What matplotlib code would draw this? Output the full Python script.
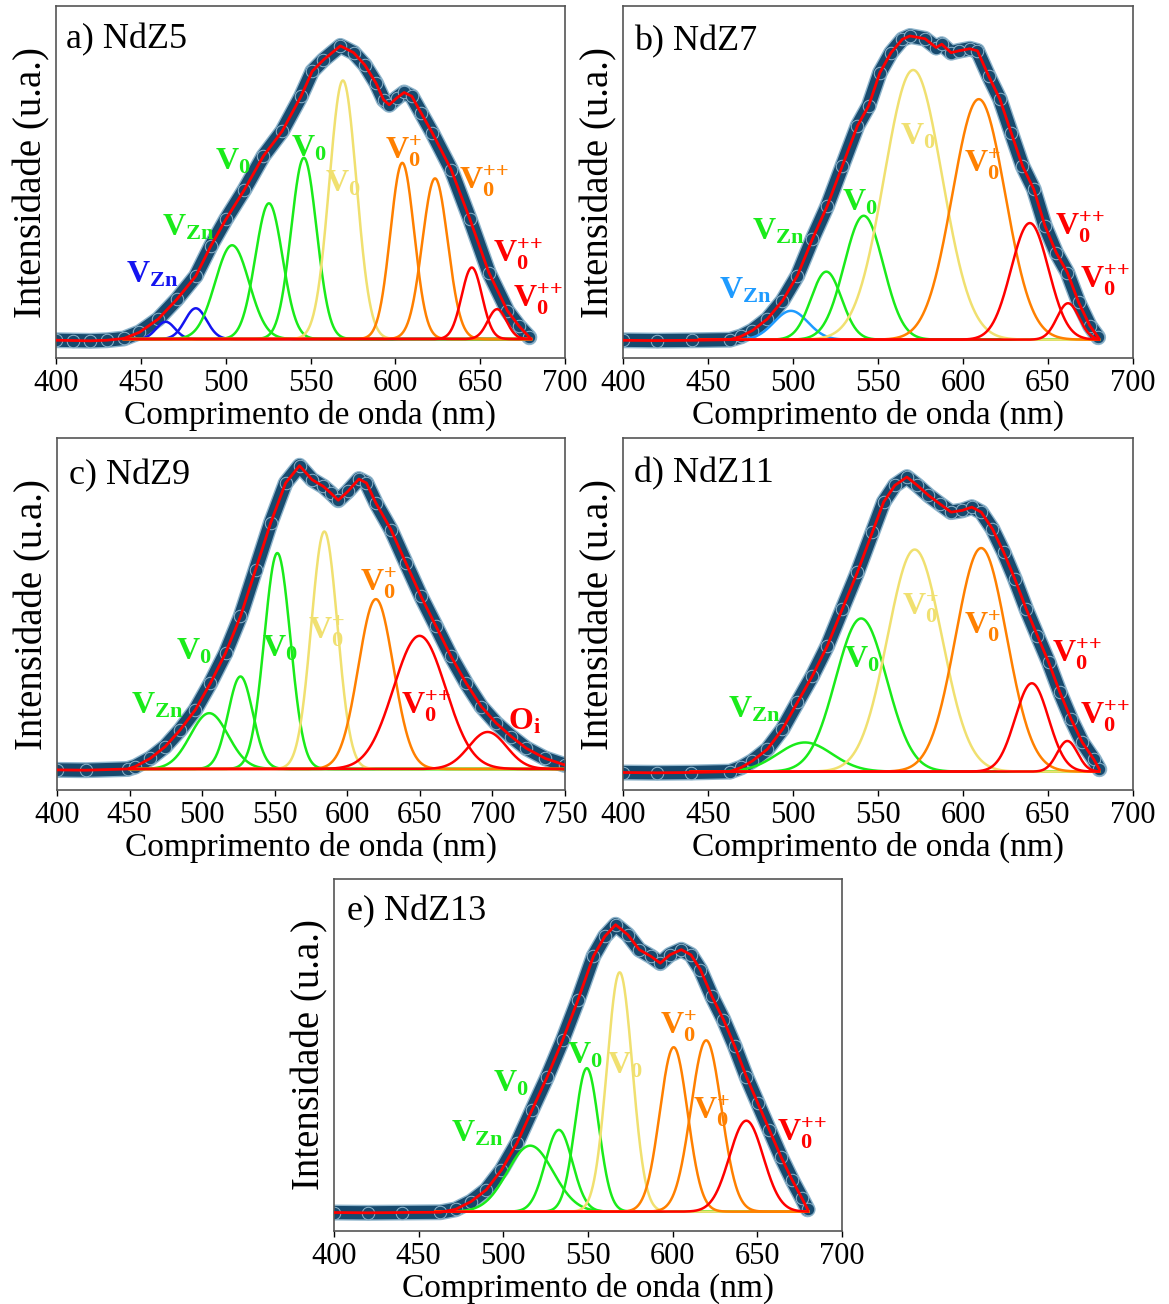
import numpy as np
import matplotlib
matplotlib.use('Agg')
import matplotlib.pyplot as plt

plt.rcParams['font.family'] = ['Liberation Serif', 'DejaVu Serif']
plt.rcParams['mathtext.fontset'] = 'custom'
plt.rcParams['mathtext.rm'] = 'Liberation Serif'
plt.rcParams['mathtext.bf'] = 'Liberation Serif:bold'
plt.rcParams['mathtext.it'] = 'Liberation Serif:italic'

# ---------------- data (normalised intensity, peak = 1) ----------------
# a) NdZ5
a_wl = [400, 410, 420, 430, 440, 449.2, 460.2, 471.3, 482.4, 491.2, 500.1, 511.1, 522.2, 533.3,
        544.4, 551.0, 557.6, 567.6, 575.4, 582.0, 588.6, 593.1, 596.4, 600.8, 605.2, 609.7,
        615.2, 621.8, 632.9, 644.0, 655.1, 666.1, 672.8, 679.0]
a_int = [-0.004, -0.005, -0.006, -0.004, 0.002, 0.023, 0.068, 0.136, 0.215, 0.317, 0.408, 0.510,
         0.624, 0.709, 0.828, 0.913, 0.952, 1.0, 0.977, 0.935, 0.873, 0.816, 0.799, 0.822, 0.841,
         0.828, 0.771, 0.703, 0.578, 0.408, 0.227, 0.096, 0.045, 0.006]
a_centers = [464.6, 482.4, 503.8, 525.5, 546.1, 569.1, 604.1, 623.4, 645.1, 660.0]
a_heights = [0.059, 0.105, 0.32, 0.463, 0.618, 0.882, 0.601, 0.548, 0.244, 0.102]
a_sigmas = [5.5, 6.4, 10.0, 8.0, 7.5, 8.0, 7.0, 7.5, 6.0, 5.5]

# b) NdZ7
b_wl = [400, 420, 440.8, 462.9, 469.5, 476.1, 484.9, 493.8, 502.6, 511.4, 520.2, 529.0, 537.9,
        544.5, 551.1, 557.7, 564.3, 568.8, 577.6, 584.2, 587.5, 593.0, 597.4, 604.0, 608.5,
        615.1, 621.7, 628.3, 635.0, 641.6, 648.2, 654.8, 661.4, 668.0, 674.6, 679.5]
b_int = [-0.002, -0.003, -0.002, 0.0, 0.011, 0.030, 0.068, 0.128, 0.211, 0.331, 0.441, 0.572,
         0.704, 0.770, 0.879, 0.945, 0.989, 1.0, 0.991, 0.962, 0.973, 0.945, 0.951, 0.958, 0.951,
         0.868, 0.792, 0.682, 0.572, 0.496, 0.375, 0.287, 0.221, 0.123, 0.046, 0.008]
b_centers = [498.8, 519.6, 541.6, 570.7, 609.3, 639.3, 661.8]
b_heights = [0.095, 0.224, 0.408, 0.888, 0.792, 0.384, 0.12]
b_sigmas = [10.0, 9.0, 11.5, 17.0, 15.5, 11.0, 6.5]

# c) NdZ9
c_wl = [400, 420, 448.7, 453.9, 464.3, 474.6, 484.9, 495.3, 505.7, 516.1, 526.4, 536.8, 547.2,
        557.5, 567.1, 575.7, 583.4, 588.6, 593.8, 600.3, 608.0, 613.2, 619.7, 630.1, 640.4,
        650.8, 661.2, 671.5, 681.9, 692.3, 702.6, 713.0, 723.4, 736.3, 750.0]
c_int = [-0.003, -0.004, 0.0, 0.008, 0.035, 0.074, 0.129, 0.195, 0.283, 0.382, 0.503, 0.657,
         0.811, 0.943, 1.0, 0.954, 0.932, 0.910, 0.886, 0.915, 0.956, 0.943, 0.877, 0.789, 0.679,
         0.569, 0.470, 0.371, 0.283, 0.206, 0.151, 0.107, 0.068, 0.035, 0.013]
c_centers = [504.9, 526.4, 551.8, 584.2, 619.7, 649.8, 696.7]
c_heights = [0.184, 0.305, 0.712, 0.783, 0.56, 0.439, 0.122]
c_sigmas = [13.0, 8.5, 9.0, 9.0, 12.0, 18.0, 13.0]

# d) NdZ11
d_wl = [400, 420, 440, 462.9, 469.5, 476.1, 484.9, 493.8, 502.6, 511.4, 520.2, 529.0, 537.9,
        546.7, 553.3, 559.9, 567.0, 573.1, 579.7, 586.4, 593.0, 599.6, 605.2, 610.7, 617.3,
        623.9, 630.5, 637.2, 643.8, 650.4, 657.0, 663.6, 670.2, 676.9, 680.2]
d_int = [-0.003, -0.004, -0.003, 0.0, 0.014, 0.036, 0.076, 0.144, 0.235, 0.325, 0.427, 0.552,
         0.677, 0.813, 0.915, 0.972, 1.0, 0.972, 0.938, 0.909, 0.881, 0.887, 0.898, 0.881, 0.824,
         0.745, 0.654, 0.552, 0.461, 0.371, 0.269, 0.178, 0.099, 0.042, 0.008]
d_centers = [507.0, 540.1, 571.6, 610.7, 640.5, 661.4]
d_heights = [0.099, 0.52, 0.754, 0.759, 0.30, 0.104]
d_sigmas = [16.0, 15.0, 16.0, 15.0, 9.8, 6.0]

# e) NdZ13
e_wl = [400, 420, 440, 462.8, 471.8, 480.9, 489.9, 498.9, 508.0, 517.0, 526.0, 535.1, 544.1,
        553.2, 559.9, 566.3, 573.5, 580.3, 587.1, 592.7, 598.3, 605.1, 610.8, 616.4, 623.2,
        630.0, 636.7, 643.5, 650.3, 657.1, 663.9, 670.6, 676.3, 679.7]
e_int = [-0.003, -0.004, -0.003, -0.002, 0.008, 0.035, 0.076, 0.145, 0.238, 0.355, 0.471, 0.599,
         0.738, 0.890, 0.959, 1.0, 0.965, 0.913, 0.890, 0.866, 0.895, 0.913, 0.895, 0.843, 0.750,
         0.669, 0.576, 0.471, 0.378, 0.285, 0.192, 0.110, 0.047, 0.008]
e_centers = [515.9, 532.8, 549.3, 568.7, 600.6, 619.8, 643.5]
e_heights = [0.23, 0.285, 0.5, 0.834, 0.573, 0.597, 0.317]
e_sigmas = [13.5, 8.0, 7.0, 7.5, 8.2, 9.0, 10.0]

VZN = r'$\mathbf{V_{Zn}}$'
V0 = r'$\mathbf{V_0}$'
V0P = r'$\mathbf{V_0^{+}}$'
V0PP = r'$\mathbf{V_0^{+\!+}}$'
OI = r'$\mathbf{O_i}$'

a_labels = [VZN, VZN, V0, V0, V0, V0P, V0PP, V0PP, V0PP]
b_labels = [VZN, VZN, V0, V0, V0P, V0PP, V0PP]
c_labels = [VZN, V0, V0, V0P, V0P, V0PP, OI]
d_labels = [VZN, V0, V0P, V0P, V0PP, V0PP]
e_labels = [VZN, V0, V0, V0, V0P, V0P, V0PP]

titles = ['a) NdZ5', 'b) NdZ7', 'c) NdZ9', 'd) NdZ11', 'e) NdZ13']

# ---------------- styles / layout ----------------
GREEN = '#1aeb1a'
YELLOW = '#f0e070'
ORANGE = '#ff8000'
RED = '#ff0000'
BLUE = '#1414f0'
LBLUE = '#1e9bff'
NAVY = '#174a6e'
EDGE = '#8fb5cc'

a_colors = [BLUE, BLUE, GREEN, GREEN, GREEN, YELLOW, ORANGE, ORANGE, RED, RED]
a_lcolors = [BLUE, GREEN, GREEN, GREEN, YELLOW, ORANGE, ORANGE, RED, RED]
a_lpos = [(441.4, 0.193), (462.4, 0.354), (493.9, 0.578), (538.4, 0.624), (558.7, 0.505),
          (594.2, 0.612), (637.8, 0.510), (657.3, 0.261), (669.4, 0.108)]

b_colors = [LBLUE, GREEN, GREEN, YELLOW, ORANGE, RED, RED]
b_lcolors = [LBLUE, GREEN, GREEN, YELLOW, ORANGE, RED, RED]
b_lpos = [(456.3, 0.134), (476.1, 0.331), (529.1, 0.424), (562.8, 0.644), (600.7, 0.55),
          (654.4, 0.342), (669.1, 0.167)]

c_colors = [GREEN, GREEN, GREEN, YELLOW, ORANGE, RED, RED]
c_lcolors = [GREEN, GREEN, GREEN, YELLOW, ORANGE, RED, RED]
c_lpos = [(450.8, 0.184), (481.9, 0.36), (541.5, 0.371), (572.6, 0.426), (608.8, 0.585),
          (637.3, 0.178), (710.4, 0.129)]

d_colors = [GREEN, GREEN, YELLOW, ORANGE, RED, RED]
d_lcolors = [GREEN, GREEN, YELLOW, ORANGE, RED, RED]
d_lpos = [(461.8, 0.184), (530.2, 0.354), (564.3, 0.53), (600.7, 0.467), (652.1, 0.371),
          (669.1, 0.161)]

e_colors = [GREEN, GREEN, GREEN, YELLOW, ORANGE, ORANGE, RED]
e_lcolors = [GREEN, GREEN, GREEN, YELLOW, ORANGE, ORANGE, RED]
e_lpos = [(468.9, 0.244), (493.7, 0.419), (537.8, 0.517), (561.1, 0.483), (592.7, 0.616),
          (612.3, 0.32), (661.6, 0.244)]

panels = [
    dict(wl=a_wl, it=a_int, cen=a_centers, h=a_heights, s=a_sigmas, col=a_colors,
         lab=a_labels, lcol=a_lcolors, lpos=a_lpos, rect=[56, 6, 509, 352], xlim=(400, 700),
         ylim=(-0.0646, 1.136), crange=(440, 680), tpos=(0.02, 0.88)),
    dict(wl=b_wl, it=b_int, cen=b_centers, h=b_heights, s=b_sigmas, col=b_colors,
         lab=b_labels, lcol=b_lcolors, lpos=b_lpos, rect=[623, 6, 510, 352], xlim=(400, 700),
         ylim=(-0.0603, 1.0987), crange=(445, 680), tpos=(0.022, 0.875)),
    dict(wl=c_wl, it=c_int, cen=c_centers, h=c_heights, s=c_sigmas, col=c_colors,
         lab=c_labels, lcol=c_lcolors, lpos=c_lpos, rect=[57, 438, 508, 352], xlim=(400, 750),
         ylim=(-0.0693, 1.0913), crange=(450, 750), tpos=(0.024, 0.867)),
    dict(wl=d_wl, it=d_int, cen=d_centers, h=d_heights, s=d_sigmas, col=d_colors,
         lab=d_labels, lcol=d_lcolors, lpos=d_lpos, rect=[623, 438, 510, 352], xlim=(400, 700),
         ylim=(-0.0624, 1.1327), crange=(440, 680), tpos=(0.022, 0.875)),
    dict(wl=e_wl, it=e_int, cen=e_centers, h=e_heights, s=e_sigmas, col=e_colors,
         lab=e_labels, lcol=e_lcolors, lpos=e_lpos, rect=[334, 879, 508, 352], xlim=(400, 700),
         ylim=(-0.0674, 1.1593), crange=(460, 680), tpos=(0.025, 0.884)),
]

W, H = 1169, 1304
fig = plt.figure(figsize=(W / 100, H / 100), dpi=100)

for i, p in enumerate(panels):
    l, t, w, hh = p['rect']
    ax = fig.add_axes([l / W, 1 - (t + hh) / H, w / W, hh / H])
    wl = np.array(p['wl'])
    it = np.array(p['it'])
    # measured spectrum (band of points)
    ax.plot(wl, it, color=EDGE, lw=11.5, solid_capstyle='round', solid_joinstyle='round', zorder=1)
    ax.plot(wl, it, color=NAVY, lw=9.5, solid_capstyle='round', solid_joinstyle='round', zorder=1.2)
    ax.plot(wl, it, 'o', ms=9, mfc=NAVY, mec=EDGE, mew=0.7, zorder=1.5)
    # gaussian components
    xs = np.linspace(p['crange'][0], p['crange'][1], 800)
    for c, hgt, sg, col in zip(p['cen'], p['h'], p['s'], p['col']):
        ax.plot(xs, hgt * np.exp(-0.5 * ((xs - c) / sg) ** 2), color=col, lw=1.8, zorder=2)
    # fit
    ax.plot(wl, it, color=RED, lw=2.0, zorder=3)
    # labels
    for s, col, (lx, ly) in zip(p['lab'], p['lcol'], p['lpos']):
        ax.text(lx, ly, s, color=col, fontsize=23, ha='left', va='baseline', zorder=5)
    ax.text(p['tpos'][0], p['tpos'][1], titles[i], transform=ax.transAxes, fontsize=26,
            ha='left', va='baseline')
    ax.set_xlim(*p['xlim'])
    ax.set_ylim(*p['ylim'])
    ax.set_xticks(np.arange(p['xlim'][0], p['xlim'][1] + 1, 50))
    ax.set_yticks([])
    ax.tick_params(axis='x', direction='out', length=4, width=1.0, labelsize=22, pad=4)
    for sp in ax.spines.values():
        sp.set_color('#555555')
        sp.set_linewidth(1.2)
    ax.set_xlabel('Comprimento de onda (nm)', fontsize=24, labelpad=1)
    ax.set_ylabel('Intensidade (u.a.)', fontsize=28, labelpad=4)

fig.savefig('out.png', dpi=100)
